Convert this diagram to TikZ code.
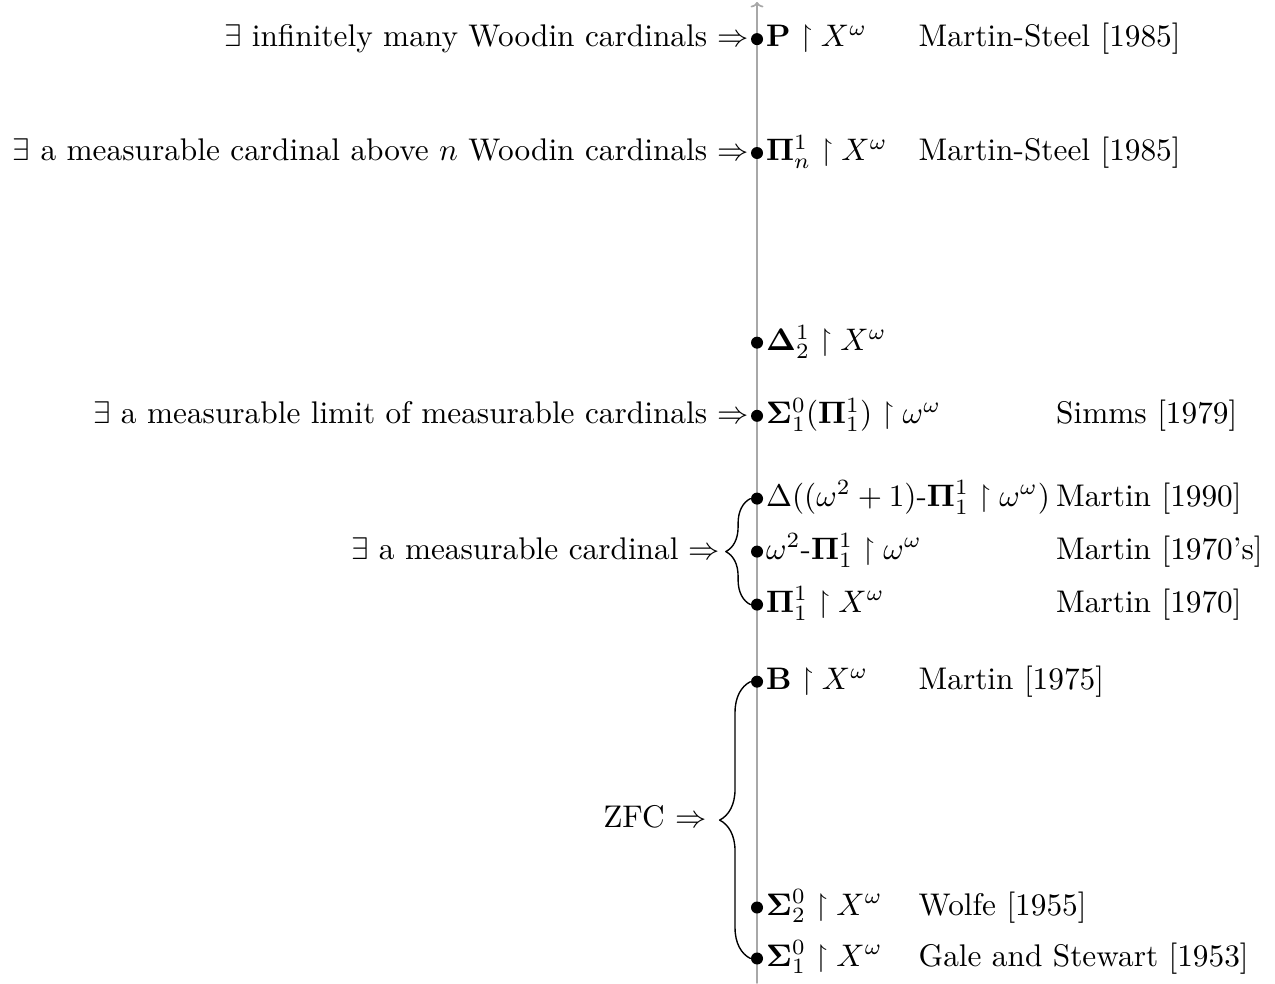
\documentclass[tikz,border=0pt]{standalone}
\usepackage{amsmath,amssymb}
\usepackage{xcolor}
\usepackage{tikz}
\usetikzlibrary{arrows.meta,positioning,calc,decorations.pathreplacing}
\definecolor{axisgray}{HTML}{A8A8A8}
\tikzset{
    every picture/.style={line cap=round,line join=round},
    axisline/.style={draw=axisgray,line width=0.55pt,
      -{To[length=1.8pt,width=4.2pt]}},
    gamedot/.style={circle,fill=black,inner sep=0pt,minimum size=3.9pt},
    classlabel/.style={anchor=base west,inner sep=0.6pt,scale=1.012},
    hyplabel/.style={anchor=base east,inner sep=0.3pt,scale=1.017},
    citelabel/.style={anchor=base west,inner sep=0pt,scale=1.017},
    bracebar/.style={decorate,decoration={brace,amplitude=#1},line width=0.45pt},
    bracebar/.default=10pt
}

\begin{document}
\begin{tikzpicture}[font=\normalsize]
  \useasboundingbox (0,0) rectangle (14.555,11.222);
  \coordinate (axisbot) at (8.642,0);
  \coordinate (axistop) at (8.642,11.2);
  \coordinate (citeA) at (10.48,0);
  \coordinate (citeB) at (12.05,0);
  \draw[axisline] (axisbot)--(axistop);
  \foreach \n/\y/\cls in {
      P/10.775/{$\mathbf{P}\restriction X^\omega$},
      Pin/9.475/{$\mathbf{\Pi}^1_n\restriction X^\omega$},
      Delta/7.31/{$\mathbf{\Delta}^1_2\restriction X^\omega$},
      SigPi/6.475/{$\mathbf{\Sigma}^0_1(\mathbf{\Pi}^1_1)\restriction\omega^\omega$},
      Del/5.53/{$\Delta((\omega^2+1)\text{-}\mathbf{\Pi}^1_1\restriction\omega^\omega)$},
      Om/4.925/{$\omega^2\text{-}\mathbf{\Pi}^1_1\restriction\omega^\omega$},
      Pi/4.32/{$\mathbf{\Pi}^1_1\restriction X^\omega$},
      B/3.44/{$\mathbf{B}\restriction X^\omega$},
      Sigb/0.862/{$\mathbf{\Sigma}^0_2\restriction X^\omega$},
      Siga/0.28/{$\mathbf{\Sigma}^0_1\restriction X^\omega$}} {
    \node[gamedot] (d\n) at (axisbot |- 0,\y) {};
    \node[classlabel] (c\n) at ([yshift=-2.5pt]d\n.east) {\cls};
  }
  \foreach \n/\col/\ref in {P/citeA/{Martin-Steel [1985]},Pin/citeA/{Martin-Steel [1985]},
      SigPi/citeB/{Simms [1979]},Del/citeB/{Martin [1990]},Om/citeB/{Martin [1970's]},
      Pi/citeB/{Martin [1970]},B/citeA/{Martin [1975]},Sigb/citeA/{Wolfe [1955]},
      Siga/citeA/{Gale and Stewart [1953]}} {
    \node[citelabel] (r\n) at (\col |- c\n.base) {\ref};
  }
  \node[hyplabel] (hP) at ([yshift=-2.5pt]dP.west) {$\exists$ infinitely many Woodin cardinals $\Rightarrow$};
  \node[hyplabel] (hPin) at ([yshift=-2.5pt]dPin.west) {$\exists$ a measurable cardinal above $n$ Woodin cardinals $\Rightarrow$};
  \node[hyplabel] (hSigPi) at ([yshift=-2.5pt]dSigPi.west) {$\exists$ a measurable limit of measurable cardinals $\Rightarrow$};
  \draw[bracebar=8pt] (dPi.west)--(dDel.west);
  \coordinate (meastip) at ($(dPi.west)!0.5!(dDel.west)+(-8pt,0)$);
  \node[hyplabel] (hMeas) at ([xshift=-1.3pt,yshift=-2.5pt]meastip) {$\exists$ a measurable cardinal $\Rightarrow$};
  \draw[bracebar] (dSiga.west)--(dB.west);
  \coordinate (zfctip) at ($(dSiga.west)!0.5!(dB.west)+(-10pt,0)$);
  \node[hyplabel] (hZFC) at ([xshift=-3.8pt,yshift=-2.5pt]zfctip) {ZFC $\Rightarrow$};
\end{tikzpicture}
\end{document}
